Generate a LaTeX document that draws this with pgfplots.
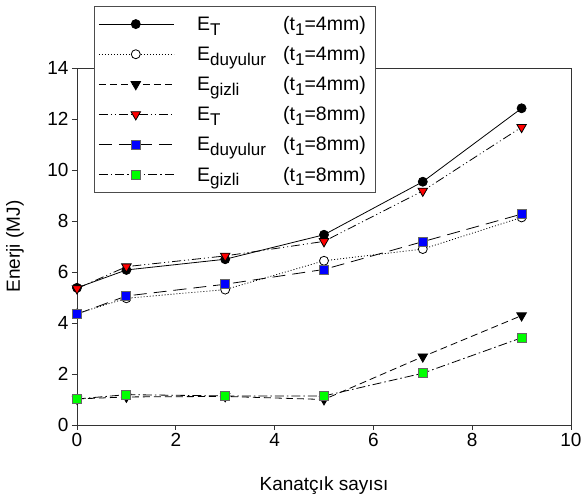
\documentclass[border=0pt]{standalone}
\usepackage{pgfplots}
\pgfplotsset{compat=1.18}
\usepackage{fontspec}
\setmainfont{Liberation Sans}
\newcommand\sub[1]{\raisebox{-0.45ex}{\fontsize{17}{17}\selectfont #1}}
\newcommand\legtxt[2]{\hspace*{21pt}\makebox[86pt][l]{E\sub{#1}}(t\sub{1}=#2mm)\hspace*{4pt}}
\definecolor{mygreen}{RGB}{0,255,0}
\begin{document}
\begin{tikzpicture}
\begin{axis}[name=ax, at={(0,0)}, anchor=south west,
  width=494pt, height=357pt, scale only axis,
  xmin=0, xmax=10, ymin=0, ymax=14,
  xtick={0,2,...,10}, ytick={0,2,...,14},
  tick align=outside, tick pos=left, major tick length=5pt,
  axis line style={black!80, line width=0.8pt},
  tick style={black!80, line width=0.8pt},
  /pgf/number format/assume math mode=true,
  tick label style={font=\fontsize{19}{22}\selectfont},
  label style={font=\fontsize{19}{22}\selectfont},
  xlabel={Kanatçık sayısı}, ylabel={Enerji (MJ)},
  xlabel style={at={(axis description cs:0.5,-0.17)}, anchor=center},
  ylabel style={at={(axis description cs:-0.1255,0.5)}, anchor=center},
  legend style={draw=black!70, line width=0.8pt, fill=white,
    at={(axis description cs:0.0344,1.174)}, anchor=north west,
    font=\fontsize{19.5}{22}\selectfont, inner xsep=4pt, inner ysep=8pt,
    row sep=10.5pt, cells={anchor=west}},
  legend image code/.code={\draw[mark repeat=2, mark phase=2, #1] plot coordinates {(0pt,0pt) (37pt,0pt) (75pt,0pt)};},
  every axis plot/.append style={line width=0.8pt},
]
\addplot[black, mark=*, mark size=4.5pt, mark options={solid, fill=black}] coordinates {
(0,5.38) (1,6.08) (3,6.5) (5,7.46) (7,9.54) (9,12.42)};
\addlegendentry{\legtxt{T}{4}}
\addplot[black, dash pattern=on 1pt off 2pt, mark=*, mark size=4.5pt, mark options={solid, fill=white, draw=black}] coordinates {
(0,4.37) (1,4.97) (3,5.31) (5,6.44) (7,6.9) (9,8.14)};
\addlegendentry{\legtxt{duyulur}{4}}
\addplot[black, dash pattern=on 7pt off 4pt, mark=triangle*, mark size=5.5pt, mark options={solid, rotate=180, fill=black}] coordinates {
(0,1.02) (1,1.1) (3,1.12) (5,1.0) (7,2.68) (9,4.29)};
\addlegendentry{\legtxt{gizli}{4}}
\addplot[black, dash pattern=on 9pt off 3pt on 1pt off 3pt on 1pt off 3pt, mark=triangle*, mark size=5.5pt, mark options={solid, rotate=180, fill=red, draw=black}] coordinates {
(0,5.35) (1,6.21) (3,6.63) (5,7.2) (7,9.18) (9,11.68)};
\addlegendentry{\legtxt{T}{8}}
\addplot[black, dash pattern=on 13pt off 7pt, mark=square*, mark size=4.5pt, mark options={solid, fill=blue, draw=black!60}] coordinates {
(0,4.35) (1,5.06) (3,5.52) (5,6.1) (7,7.19) (9,8.27)};
\addlegendentry{\legtxt{duyulur}{8}}
\addplot[black, dash pattern=on 9pt off 3pt on 1.5pt off 3pt, mark=square*, mark size=4.5pt, mark options={solid, fill=mygreen, draw=black!60}] coordinates {
(0,1.02) (1,1.19) (3,1.14) (5,1.14) (7,2.03) (9,3.42)};
\addlegendentry{\legtxt{gizli}{8}}
\end{axis}
\pgfresetboundingbox
\path[use as bounding box] (-77pt,-72pt) rectangle (505pt,425pt);
\end{tikzpicture}
\end{document}
